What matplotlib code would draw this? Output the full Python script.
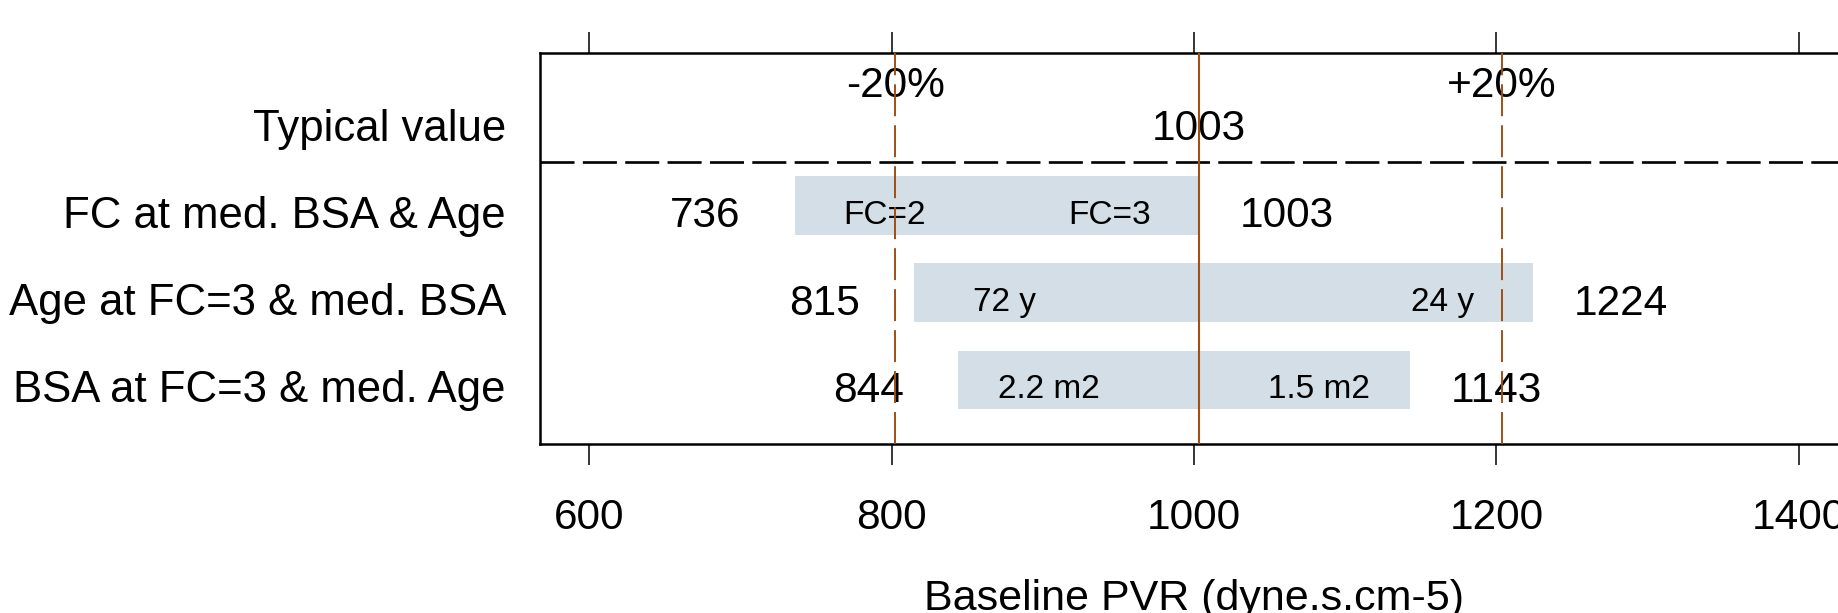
import matplotlib
matplotlib.use("Agg")
import matplotlib.pyplot as plt
import matplotlib.transforms as mtransforms

plt.rcParams['font.family'] = ['Liberation Sans', 'DejaVu Sans']
plt.rcParams['lines.scale_dashes'] = False

# ---- data ----
row_labels = ["Typical value", "FC at med. BSA & Age",
              "Age at FC=3 & med. BSA", "BSA at FC=3 & med. Age"]
typical_value = 1003
low_values = [736, 815, 844]
high_values = [1003, 1224, 1143]
low_names = ["FC=2", "72 y", "2.2 m2"]
high_names = ["FC=3", "24 y", "1.5 m2"]
x_ticks = [600, 800, 1000, 1200, 1400]
band_factors = [0.8, 1.2]
band_names = ["-20%", "+20%"]

# ---- style ----
W, H, DPI = 1838, 613, 100
BROWN = "#9E5015"
BAR = "#D4DEE6"
FS = 30.5
FS_ROW = 31.5
FS_IN = 24
TEXT_DY = -6.5            # pixels, shift text slightly below row centre
inner_pad = [48, 59, 40]  # pixels between bar edge and inner label

fig = plt.figure(figsize=(W / DPI, H / DPI), dpi=DPI)
ax = fig.add_axes([540 / W, 1 - 444.3 / H, (1848 - 540) / W, (444.3 - 52.7) / H])
ax.set_xlim(567.5, 1432.5)
ax.set_ylim(3.739, -0.752)

rows = list(range(1, len(low_values) + 1))
widths = [h - l for l, h in zip(low_values, high_values)]
ax.barh(rows, widths, left=low_values, height=0.67, color=BAR, zorder=1)

# reference lines
ax.axvline(typical_value, color=BROWN, lw=1.5, zorder=3)
for f in band_factors:
    ax.axvline(typical_value * f, color=BROWN, lw=1.4, ls=(0, (23, 6.5)), zorder=3)
ax.axhline(0.5, color="black", lw=1.9, ls=(0, (24.5, 6)), zorder=2)


def shifted(dx):
    return mtransforms.offset_copy(ax.transData, fig=fig, x=dx, y=TEXT_DY, units="dots")


# typical value
ax.text(typical_value, 0, f"{typical_value}", ha="center", va="center_baseline",
        fontsize=FS, transform=shifted(0), zorder=2)

for r, lo, hi, ln, hn, p in zip(rows, low_values, high_values, low_names, high_names, inner_pad):
    ax.text(lo, r, f"{lo}", ha="right", va="center_baseline", fontsize=FS,
            transform=shifted(-54), zorder=2)
    ax.text(hi, r, f"{hi}", ha="left", va="center_baseline", fontsize=FS,
            transform=shifted(41), zorder=2)
    ax.text(lo, r, ln, ha="left", va="center_baseline", fontsize=FS_IN,
            transform=shifted(p), zorder=2)
    ax.text(hi, r, hn, ha="right", va="center_baseline", fontsize=FS_IN,
            transform=shifted(-p), zorder=2)

# band labels on top
band_tr = mtransforms.blended_transform_factory(ax.transData, ax.transAxes)
for f, name in zip(band_factors, band_names):
    ax.text(typical_value * f, 0.926, name, ha="center", va="center_baseline",
            fontsize=FS, transform=band_tr, zorder=2)

# axes styling
for side in ("left", "top", "bottom"):
    ax.spines[side].set_linewidth(1.8)
    ax.spines[side].set_color("black")
ax.spines["right"].set_visible(False)

ax.set_xticks(x_ticks)
ax.set_xticklabels([str(t) for t in x_ticks])
ax.tick_params(axis="x", which="both", direction="out", length=15, width=1.1,
               top=True, labeltop=False, labelsize=FS, pad=23.8, colors="black")

ax.set_yticks([0] + rows)
ax.set_yticklabels(row_labels, fontsize=FS_ROW)
ax.tick_params(axis="y", length=0, pad=24.5)
for lbl in ax.get_yticklabels():
    lbl.set_verticalalignment("center_baseline")
    lbl.set_transform(lbl.get_transform() + mtransforms.Affine2D().translate(0, TEXT_DY))

ax.set_xlabel("Baseline PVR (dyne.s.cm-5)", fontsize=31, va="top")
ax.xaxis.set_label_coords(0.5, -0.3452)

fig.savefig("out.png", dpi=DPI)
